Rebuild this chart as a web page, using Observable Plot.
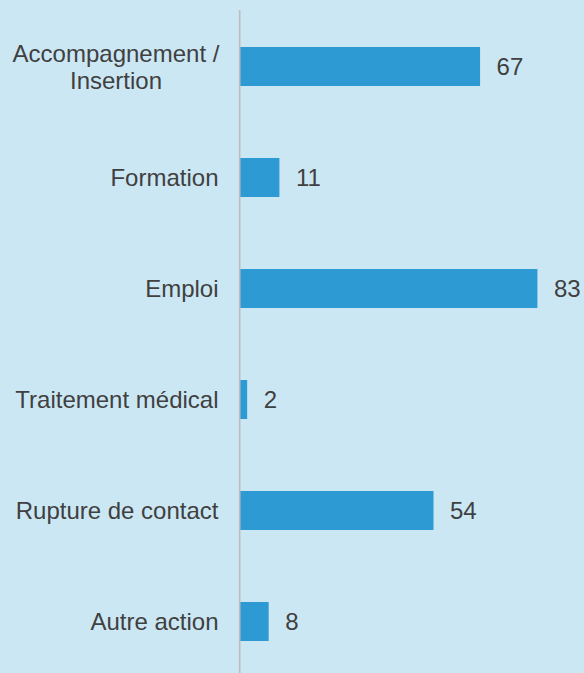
<!DOCTYPE html>
<html>
<head>
<meta charset="utf-8">
<script src="https://cdn.jsdelivr.net/npm/d3@7"></script>
<script src="https://cdn.jsdelivr.net/npm/@observablehq/plot@0.6"></script>
<style>
  html, body { margin: 0; padding: 0; background: #cce7f4; }
  #chart svg { display: block; background: #cce7f4; }
</style>
</head>
<body>
<div id="chart"></div>
<script>
const categories = ["Accompagnement / Insertion", "Formation", "Emploi", "Traitement médical", "Rupture de contact", "Autre action"];
const tickLabels = ["Accompagnement /\nInsertion", "Formation", "Emploi", "Traitement médical", "Rupture de contact", "Autre action"];
const values = [67, 11, 83, 2, 54, 8];

const data = categories.map((c, i) => ({category: c, label: tickLabels[i], value: values[i]}));
const multi = data.filter(d => d.label.includes("\n"));
const single = data.filter(d => !d.label.includes("\n"));

const textColor = "#404040";
const font = "Liberation Sans, Arial, sans-serif";

const chart = Plot.plot({
  width: 584,
  height: 673,
  marginLeft: 240,
  marginRight: 0,
  marginTop: 10,
  marginBottom: 0,
  style: {background: "#cce7f4", fontFamily: font, color: textColor},
  x: {domain: [0, 96], axis: null},
  y: {domain: categories, range: [9.8, 678.2], paddingInner: 0.65, paddingOuter: 0.325, align: 0.5, axis: null},
  marks: [
    Plot.barX(data, {y: "category", x: "value", fill: "#2e9ad3"}),
    Plot.ruleX([0], {stroke: "#bdbdbd", strokeWidth: 1.6, dx: -0.8}),
    Plot.text(data, {y: "category", x: "value", text: d => String(d.value), textAnchor: "start", dx: 16, fontSize: 24, fill: textColor}),
    Plot.text(single, {y: "category", frameAnchor: "left", text: "label", textAnchor: "end", dx: -22, fontSize: 24, fill: textColor}),
    Plot.text(multi, {y: "category", frameAnchor: "left", text: "label", textAnchor: "middle", dx: -124.5, lineHeight: 1.14, fontSize: 24, fill: textColor})
  ]
});
document.getElementById("chart").appendChild(chart);
</script>
</body>
</html>
